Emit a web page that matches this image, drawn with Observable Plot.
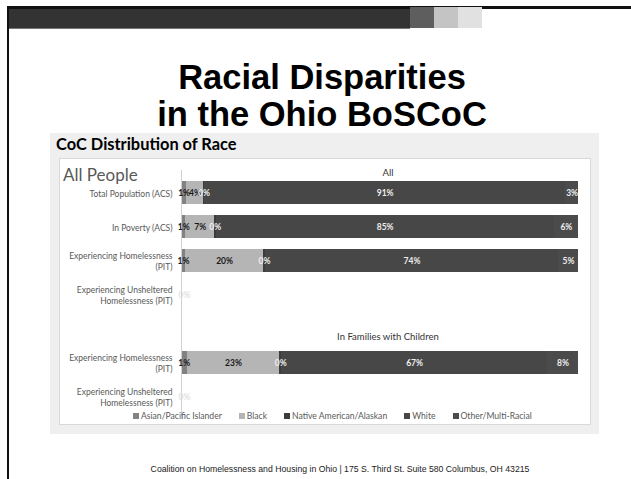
<!DOCTYPE html>
<html>
<head>
<meta charset="utf-8">
<script src="https://cdn.jsdelivr.net/npm/d3@7"></script>
<script src="https://cdn.jsdelivr.net/npm/@observablehq/plot@0.6"></script>
<style>
  html, body { margin: 0; padding: 0; background: #fff; }
  body { width: 631px; height: 479px; position: relative; overflow: hidden; font-family: "Liberation Sans", Arial, sans-serif; }
  .abs { position: absolute; }
  #topline { left: 7px; top: 6px; width: 624px; height: 3px; background: #111; }
  #leftline { left: 7px; top: 6px; width: 2px; height: 473px; background: #111; }
  #darkbar { left: 9px; top: 9px; width: 401px; height: 19px; background: #333; border-bottom: 1px solid #777; }
  .sq { top: 7px; width: 24px; height: 21px; }
  #title { left: 0; width: 644px; top: 59px; text-align: center; font-weight: bold; font-size: 34.5px; line-height: 37px; color: #000; }
  #footer { left: 0; width: 680px; top: 464px; text-align: center; font-size: 8.7px; color: #222; }
  #panel { left: 50px; top: 133px; width: 549px; height: 301px; background: #efefef; }
  #panelTitle { left: 56px; top: 134px; font-family: Lato, sans-serif; font-weight: bold; font-size: 16.4px; color: #000; }
  #inner { left: 59px; top: 158px; width: 530px; height: 265px; background: #fff; border: 1px solid #d9d9d9; }
  #chart { left: 59px; top: 158px; }
  #allPeople { left: 63px; top: 164px; font-family: Lato, sans-serif; font-size: 17px; color: #595959; }
  #legend { left: 133px; top: 411px; font-family: Lato, sans-serif; font-size: 8.6px; color: #595959; display: flex; white-space: nowrap; }
  #legend span.item { display: inline-flex; align-items: center; margin-right: 17px; }
  #legend span.sw { display: inline-block; width: 6px; height: 6px; margin-right: 2px; }
</style>
</head>
<body>
<div class="abs" id="topline"></div>
<div class="abs" id="leftline"></div>
<div class="abs" id="darkbar"></div>
<div class="abs sq" style="left:410px;background:#5e5e5e"></div>
<div class="abs sq" style="left:434px;background:#c4c4c4"></div>
<div class="abs sq" style="left:458px;background:#e1e1e1"></div>
<div class="abs" id="title">Racial Disparities<br>in the Ohio BoSCoC</div>
<div class="abs" id="panel"></div>
<div class="abs" id="panelTitle">CoC Distribution of Race</div>
<div class="abs" id="inner"></div>
<div class="abs" id="chart"></div>
<div class="abs" id="allPeople">All People</div>
<div class="abs" id="legend"></div>
<div class="abs" id="footer">Coalition on Homelessness and Housing in Ohio | 175 S. Third St. Suite 580 Columbus, OH 43215</div>
<script>
// ---- data ----
const rows = ["tp", "pov", "home", "unsh", "gap", "fhome", "funsh"];
const rowLabels = [
  "Total Population (ACS)",
  "In Poverty (ACS)",
  "Experiencing Homelessness\n(PIT)",
  "Experiencing Unsheltered\nHomelessness (PIT)",
  "",
  "Experiencing Homelessness\n(PIT)",
  "Experiencing Unsheltered\nHomelessness (PIT)"
];
const races = ["Asian/Pacific Islander", "Black", "Native American/Alaskan", "White", "Other/Multi-Racial"];
const raceColors = ["#828282", "#b5b5b5", "#3c3c3c", "#474747", "#4b4b4b"];
const asian  = [1.3, 1.1, 1.0, 0, null, 1.4, 0];
const black  = [4.2, 7.2, 19.7, 0, null, 23.4, 0];
const native = [0.3, 0.4, 0.4, 0, null, 0.4, 0];
const white  = [91.0, 85.2, 73.9, 0, null, 67.0, 0];
const other  = [3.2, 6.1, 5.0, 0, null, 7.8, 0];
const groupTitles = [{row: "tp", title: "All"}, {row: "gap", title: "In Families with Children"}];

const series = [asian, black, native, white, other];
const data = [];
rows.forEach((r, j) => {
  races.forEach((race, i) => {
    const v = series[i][j];
    if (v != null) data.push({row: r, race, value: v});
  });
});
const totals = new Map(rows.map((r, j) => [r, d3.sum(series, s => s[j] || 0)]));
const filled = data.filter(d => totals.get(d.row) > 0);
const emptyRows = rows.filter((r, j) => series[0][j] != null && totals.get(r) === 0).map(r => ({row: r, text: "0%"}));
const labelMap = new Map(rows.map((r, j) => [r, rowLabels[j]]));
const darkText = new Set(["Asian/Pacific Islander", "Black"]);
const pct = d => Math.round(d.value) + "%";

const chart = Plot.plot({
  width: 532,
  height: 267,
  marginLeft: 122,
  marginRight: 13,
  marginTop: 12,
  marginBottom: 6,
  style: {fontFamily: "Lato, sans-serif", background: "transparent", overflow: "visible"},
  x: {domain: [0, 100], axis: null},
  y: {domain: rows, padding: 0.32, axis: null},
  color: {domain: races, range: raceColors},
  marks: [
    Plot.axisY({label: null, tickSize: 0, tickPadding: 9, tickFormat: d => labelMap.get(d), fontSize: 8.5, fill: "#595959", lineHeight: 1.35}),
    Plot.barX(filled, Plot.stackX({x: "value", y: "row", fill: "race", order: races, shapeRendering: "crispEdges"})),
    Plot.ruleX([0], {stroke: "#d0d0d0"}),
    Plot.text(filled, Plot.filter(d => darkText.has(d.race), Plot.stackX({x: "value", y: "row", z: "race", order: races, text: pct, fill: "#1a1a1a", fontWeight: "bold", fontSize: 8.5}))),
    Plot.text(filled, Plot.filter(d => !darkText.has(d.race), Plot.stackX({x: "value", y: "row", z: "race", order: races, text: pct, fill: "#eeeeee", fontWeight: "bold", fontSize: 8.5}))),
    Plot.text(emptyRows, {x: 0, y: "row", text: "text", fill: "#e2e2e2", fontWeight: "bold", fontSize: 8.5, dx: 3}),
    Plot.text(groupTitles.filter(g => g.row === "tp"), {x: 52, y: "row", text: "title", dy: -20, fill: "#333", fontSize: 9.5}),
    Plot.text(groupTitles.filter(g => g.row === "gap"), {x: 52, y: "row", text: "title", dy: 8, fill: "#333", fontSize: 9.5})
  ]
});
document.getElementById("chart").appendChild(chart);

const legend = document.getElementById("legend");
races.forEach((race, i) => {
  const item = document.createElement("span");
  item.className = "item";
  const sw = document.createElement("span");
  sw.className = "sw";
  sw.style.background = raceColors[i];
  item.appendChild(sw);
  item.appendChild(document.createTextNode(race));
  legend.appendChild(item);
});
</script>
</body>
</html>
